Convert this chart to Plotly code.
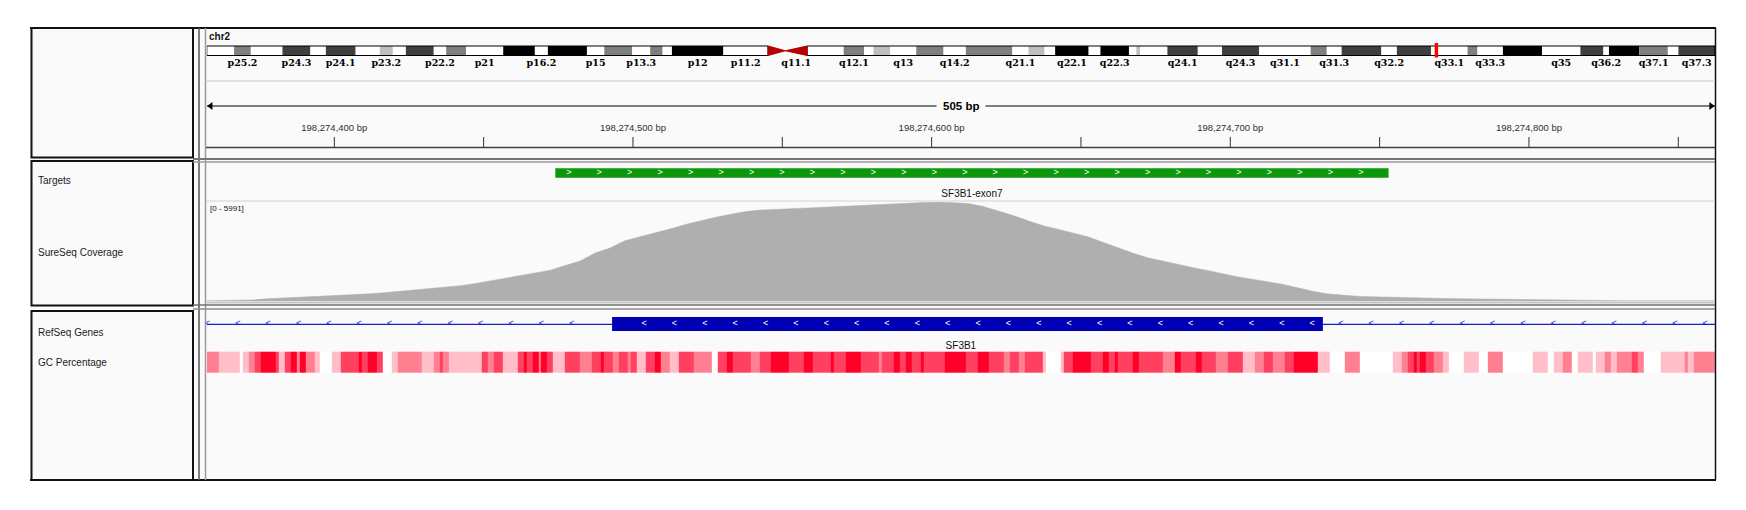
import plotly.graph_objects as go

W, H = 1746, 510

# locus shown in the view
chrom = 'chr2'
chrom_len = 243199373
view_start = 198274357.3
view_end = 198274862.3

# ruler ticks, every 50 bp, labelled every 100 bp
tick_pos = [198274400, 198274450, 198274500, 198274550, 198274600,
            198274650, 198274700, 198274750, 198274800, 198274850]
tick_text = ['198,274,400 bp', '', '198,274,500 bp', '', '198,274,600 bp',
             '', '198,274,700 bp', '', '198,274,800 bp', '']

# chr2 cytobands (hg19)
band_name = ['p25.3', 'p25.2', 'p25.1', 'p24.3', 'p24.2', 'p24.1', 'p23.3', 'p23.2',
             'p23.1', 'p22.3', 'p22.2', 'p22.1', 'p21', 'p16.3', 'p16.2', 'p16.1',
             'p15', 'p14', 'p13.3', 'p13.2', 'p13.1', 'p12', 'p11.2', 'p11.1',
             'q11.1', 'q11.2', 'q12.1', 'q12.2', 'q12.3', 'q13', 'q14.1', 'q14.2',
             'q14.3', 'q21.1', 'q21.2', 'q21.3', 'q22.1', 'q22.2', 'q22.3', 'q23.1',
             'q23.2', 'q23.3', 'q24.1', 'q24.2', 'q24.3', 'q31.1', 'q31.2', 'q31.3',
             'q32.1', 'q32.2', 'q32.3', 'q33.1', 'q33.2', 'q33.3', 'q34', 'q35',
             'q36.1', 'q36.2', 'q36.3', 'q37.1', 'q37.2', 'q37.3']
band_edges = [0, 4400000, 7100000, 12200000, 16700000, 19200000, 24000000, 27900000,
              30000000, 32100000, 36600000, 38600000, 41800000, 47800000, 52900000,
              55000000, 61300000, 64100000, 68600000, 71500000, 73500000, 75000000,
              83300000, 90500000, 93300000, 96800000, 102700000, 106000000, 107500000,
              110200000, 114400000, 118800000, 122400000, 129900000, 132500000,
              135100000, 136800000, 142200000, 144100000, 148700000, 149900000,
              150500000, 154900000, 159800000, 163700000, 169700000, 178000000,
              180600000, 183000000, 189400000, 191900000, 197400000, 203300000,
              204900000, 209000000, 215300000, 221500000, 225200000, 226100000,
              231000000, 235600000, 237300000, 243199373]
band_stain = ['gneg', 'gpos50', 'gneg', 'gpos75', 'gneg', 'gpos75', 'gneg', 'gpos25',
              'gneg', 'gpos75', 'gneg', 'gpos50', 'gneg', 'gpos100', 'gneg', 'gpos100',
              'gneg', 'gpos50', 'gneg', 'gpos50', 'gneg', 'gpos100', 'gneg', 'acen',
              'acen', 'gneg', 'gpos50', 'gneg', 'gpos25', 'gneg', 'gpos50', 'gneg',
              'gpos50', 'gneg', 'gpos25', 'gneg', 'gpos100', 'gneg', 'gpos100', 'gneg',
              'gpos25', 'gneg', 'gpos75', 'gneg', 'gpos75', 'gneg', 'gpos50', 'gneg',
              'gpos75', 'gneg', 'gpos75', 'gneg', 'gpos50', 'gneg', 'gpos100', 'gneg',
              'gpos75', 'gneg', 'gpos100', 'gpos50', 'gneg', 'gpos75']
# the labels IGV had room to draw
band_shown = ['p25.2', 'p24.3', 'p24.1', 'p23.2', 'p22.2', 'p21', 'p16.2', 'p15',
              'p13.3', 'p12', 'p11.2', 'q11.1', 'q12.1', 'q13', 'q14.2', 'q21.1',
              'q22.1', 'q22.3', 'q24.1', 'q24.3', 'q31.1', 'q31.3', 'q32.2', 'q33.1',
              'q33.3', 'q35', 'q36.2', 'q37.1', 'q37.3']

# targets / genes
target_name = 'SF3B1-exon7'
target_start = 198274474
target_end = 198274753
gene_name = 'SF3B1'
exon_start = 198274493
exon_end = 198274731

# coverage, one value every 5 bp from the view start
cov_max = 5991
cov_step = 5
cov_values = [15, 15, 15, 60, 130, 170, 200, 240, 280, 330,
              390, 440, 510, 590, 660, 740, 810, 930, 1060, 1220,
              1380, 1520, 1660, 1860, 2150, 2420, 2900, 3200, 3650, 3880,
              4100, 4350, 4620, 4850, 5050, 5230, 5400, 5500, 5550, 5590,
              5620, 5660, 5700, 5750, 5780, 5830, 5880, 5930, 5960, 5991,
              5950, 5900, 5720, 5450, 5170, 4850, 4560, 4340, 4120, 3890,
              3560, 3230, 2900, 2620, 2420, 2200, 2030, 1850, 1650, 1470,
              1320, 1170, 1020, 810, 600, 440, 360, 290, 260, 230,
              215, 200, 165, 150, 140, 125, 115, 105, 100, 80,
              60, 40, 25, 15, 15, 15, 15, 15, 15, 15,
              15, 15]

# GC percentage: run edges (bp from view start) and shade level 0 (white) .. 4 (red)
gc_edges = [0, 4, 11, 12, 14, 16, 18, 23, 24, 26,
            28, 30, 31, 33, 36, 38, 42, 45, 51, 52,
            54, 57, 59, 62, 64, 72, 76, 78, 79, 81,
            92, 94, 96, 99, 104, 106, 107, 109, 111, 112,
            114, 116, 120, 125, 129, 132, 133, 136, 138, 141,
            142, 144, 147, 150, 152, 155, 158, 163, 169, 171,
            174, 176, 182, 185, 189, 195, 200, 203, 209, 210,
            214, 219, 225, 226, 230, 232, 234, 236, 239, 240,
            247, 254, 258, 262, 267, 269, 272, 274, 280, 281,
            286, 287, 290, 296, 300, 302, 304, 305, 310, 312,
            320, 324, 326, 331, 333, 338, 342, 347, 351, 354,
            357, 361, 364, 372, 376, 381, 386, 397, 400, 402,
            404, 405, 406, 408, 411, 414, 416, 421, 426, 429,
            434, 444, 449, 451, 454, 457, 459, 464, 465, 468,
            470, 472, 477, 479, 481, 487, 495, 496, 498, 505]
gc_level = [2, 1, 0, 1, 2, 3, 4, 3, 1, 3,
            4, 2, 4, 2, 1, 0, 1, 3, 4, 3,
            4, 3, 0, 1, 2, 1, 2, 3, 2, 1,
            3, 2, 3, 1, 3, 4, 3, 4, 2, 4,
            3, 1, 3, 2, 3, 4, 3, 2, 3, 2,
            3, 1, 3, 4, 2, 1, 3, 2, 0, 3,
            4, 3, 2, 3, 4, 3, 4, 3, 4, 3,
            4, 3, 2, 3, 4, 3, 4, 3, 4, 3,
            4, 3, 4, 3, 2, 3, 2, 3, 1, 0,
            1, 3, 4, 3, 4, 3, 4, 3, 4, 3,
            2, 4, 3, 4, 3, 2, 3, 1, 2, 3,
            2, 3, 4, 1, 0, 2, 0, 1, 2, 3,
            4, 3, 4, 3, 2, 1, 0, 1, 0, 2,
            0, 1, 0, 1, 2, 0, 1, 0, 1, 2,
            1, 2, 3, 2, 0, 1, 2, 1, 2]

stain_color = {'gneg': '#ffffff', 'gpos25': '#bfbfbf', 'gpos50': '#7f7f7f',
               'gpos75': '#3f3f3f', 'gpos100': '#000000', 'acen': '#b40000'}
gc_colors = ['#ffffff', '#ffbec8', '#ff8091', '#ff4060', '#ff0028']

SANS = 'Liberation Sans, Arial, sans-serif'
BG = '#fafafa'


def px(x):
    return x / W


def py(y):
    return 1 - y / H


shapes = []
annotations = []


def prect(x0, x1, y0, y1, fill='rgba(0,0,0,0)', line='rgba(0,0,0,0)', lw=0, layer='below'):
    shapes.append(dict(type='rect', xref='paper', yref='paper', x0=px(x0), x1=px(x1),
                       y0=py(y1), y1=py(y0), fillcolor=fill,
                       line=dict(color=line, width=lw), layer=layer))


def pline(x0, y0, x1, y1, color, width):
    shapes.append(dict(type='line', xref='paper', yref='paper', x0=px(x0), x1=px(x1),
                       y0=py(y0), y1=py(y1), line=dict(color=color, width=width),
                       layer='above'))


fig = go.Figure()

# ---- frame / panels ----
prect(30, 1716, 27, 480, fill=BG)
for top, bottom in [(28, 157.5), (161, 305.5), (311, 480)]:
    prect(31.5, 193, top, bottom, line='#111111', lw=2, layer='above')
pline(30, 28, 1716, 28, '#111111', 2)
pline(30, 480, 1716, 480, '#111111', 2)
pline(1715.5, 28, 1715.5, 480, '#111111', 1.5)
pline(199, 28, 199, 480, '#555555', 1.5)
pline(205.5, 28, 205.5, 480, '#9a9a9a', 1.5)
pline(193, 159, 1715, 159, '#767676', 2)
pline(193, 162, 1715, 162, '#9a9a9a', 1.5)
pline(193, 305, 1715, 305, '#707070', 1.5)
pline(193, 309, 1715, 309, '#8a8a8a', 1.5)

# ---- ideogram ----
ideo_top, ideo_bot = 46, 55.5
for i in range(len(band_name)):
    if band_stain[i] == 'acen':
        continue
    shapes.append(dict(type='rect', xref='x2', yref='paper', x0=band_edges[i],
                       x1=band_edges[i + 1], y0=py(ideo_bot), y1=py(ideo_top),
                       fillcolor=stain_color[band_stain[i]], line=dict(width=0),
                       layer='below'))
acen = [i for i in range(len(band_name)) if band_stain[i] == 'acen']
p_end = band_edges[acen[0]]
cen = band_edges[acen[0] + 1]
q_start = band_edges[acen[-1] + 1]
for x0, x1 in [(0, p_end), (q_start, chrom_len)]:
    shapes.append(dict(type='rect', xref='x2', yref='paper', x0=x0, x1=x1,
                       y0=py(ideo_bot), y1=py(ideo_top), fillcolor='rgba(0,0,0,0)',
                       line=dict(color='#000000', width=1), layer='above'))
ymid = py((ideo_top + ideo_bot) / 2)
for xb in [p_end, q_start]:
    shapes.append(dict(type='path', xref='x2', yref='paper',
                       path=f'M {xb},{py(ideo_bot)} L {xb},{py(ideo_top)} L {cen},{ymid} Z',
                       fillcolor=stain_color['acen'], line=dict(color=stain_color['acen'], width=1),
                       layer='above'))
# current locus marker
shapes.append(dict(type='rect', xref='x2', yref='paper', x0=view_start - 280000,
                   x1=view_start + 280000, y0=py(57.5), y1=py(43), fillcolor='#ff0000',
                   line=dict(width=0), layer='above'))

lab_x = [(band_edges[i] + band_edges[i + 1]) / 2 for i in range(len(band_name))
         if band_name[i] in band_shown]
lab_t = [n for n in band_name if n in band_shown]
fig.add_trace(go.Scatter(x=lab_x, y=[63.5] * len(lab_x), text=lab_t, mode='text',
                         textfont=dict(family='DejaVu Serif', size=9.5, color='#000000'),
                         texttemplate='<b>%{text}</b>', xaxis='x2', yaxis='y2',
                         hoverinfo='skip', cliponaxis=False))

# ---- ruler ----
pline(207, 81, 1715, 81, '#d9d9d9', 1.5)
pline(206, 147.5, 1715, 147.5, '#404040', 1.5)
shapes.append(dict(type='line', xref='x', yref='paper', x0=view_start, x1=view_end,
                   y0=py(106), y1=py(106), line=dict(color='#000000', width=1),
                   layer='below'))
fig.add_trace(go.Scatter(x=[view_start + 1.3, view_end - 1.3], y=[106, 106], mode='markers',
                         marker=dict(symbol=['triangle-left', 'triangle-right'], size=7,
                                     color='#000000'),
                         xaxis='x', yaxis='y2', hoverinfo='skip', cliponaxis=False))
annotations.append(dict(x=(view_start + view_end) / 2, xref='x', y=py(106), yref='paper',
                        xanchor='center', yanchor='middle',
                        text=f'<b>{round(view_end - view_start)} bp</b>', showarrow=False,
                        font=dict(family=SANS, size=11.5, color='#000000'),
                        bgcolor=BG, borderpad=6))
tx, ty = [], []
for t in tick_pos:
    tx += [t, t, None]
    ty += [137, 147.5, None]
fig.add_trace(go.Scatter(x=tx, y=ty, mode='lines', line=dict(color='#303030', width=1),
                         xaxis='x', yaxis='y2', hoverinfo='skip'))
lx = [tick_pos[i] for i in range(len(tick_pos)) if tick_text[i]]
lt = [t for t in tick_text if t]
fig.add_trace(go.Scatter(x=lx, y=[129] * len(lx), text=lt, mode='text',
                         textfont=dict(family=SANS, size=9.5, color='#303030'),
                         xaxis='x', yaxis='y2', hoverinfo='skip'))

# ---- targets ----
shapes.append(dict(type='rect', xref='x', yref='paper', x0=target_start, x1=target_end,
                   y0=py(177.7), y1=py(168.3), fillcolor='#0b990b', line=dict(width=0),
                   layer='below'))
t_chev = []
p = target_start + 4.5
while p < target_end - 2:
    t_chev.append(p)
    p += 10.2
fig.add_trace(go.Scatter(x=t_chev, y=[172.5] * len(t_chev), text=['>'] * len(t_chev),
                         mode='text', textfont=dict(family=SANS, size=9, color='#ffffff'),
                         xaxis='x', yaxis='y2', hoverinfo='skip'))
pline(207, 201, 1715, 201, '#d2d2d2', 1)

# ---- coverage ----
cov_x = [view_start + i * cov_step for i in range(len(cov_values))]
fig.add_trace(go.Scatter(x=cov_x, y=cov_values, mode='lines', fill='tozeroy',
                         fillcolor='#afafaf', line=dict(color='#afafaf', width=0.5),
                         xaxis='x', yaxis='y', hoverinfo='skip'))
pline(207, 302.5, 1715, 302.5, '#c4c4c4', 2)

# ---- genes ----
shapes.append(dict(type='line', xref='x', yref='paper', x0=view_start, x1=view_end,
                   y0=py(324.3), y1=py(324.3), line=dict(color='#1c1cc8', width=1.2),
                   layer='below'))
shapes.append(dict(type='rect', xref='x', yref='paper', x0=exon_start, x1=exon_end,
                   y0=py(331), y1=py(317), fillcolor='#0000b4', line=dict(width=0),
                   layer='below'))
step = 10.17
line_chev = []
p = view_start + 0.2
while p < exon_start - 5:
    line_chev.append(p)
    p += step
p = exon_end + 6
while p < view_end - 1:
    line_chev.append(p)
    p += step
exon_chev = []
p = exon_start + 10.7
while p < exon_end - 2:
    exon_chev.append(p)
    p += step
fig.add_trace(go.Scatter(x=line_chev, y=[323.6] * len(line_chev), text=['<'] * len(line_chev),
                         mode='text', textfont=dict(family=SANS, size=9, color='#1c1cc8'),
                         xaxis='x', yaxis='y2', hoverinfo='skip', cliponaxis=False))
fig.add_trace(go.Scatter(x=exon_chev, y=[323.6] * len(exon_chev), text=['<'] * len(exon_chev),
                         mode='text', textfont=dict(family=SANS, size=9, color='#ffffff'),
                         xaxis='x', yaxis='y2', hoverinfo='skip'))

# ---- GC percentage ----
cs = []
for k, c in enumerate(gc_colors):
    cs.append([k / len(gc_colors), c])
    cs.append([(k + 1) / len(gc_colors), c])
fig.add_trace(go.Heatmap(x=[view_start + e for e in gc_edges], y=[351.7, 372.7],
                         z=[gc_level], zmin=-0.5, zmax=4.5, colorscale=cs, showscale=False,
                         xaxis='x', yaxis='y2', hoverinfo='skip'))

# ---- text labels ----
fig.add_trace(go.Scatter(x=[38, 38, 38, 38], y=[181.5, 253, 333, 363],
                         text=['Targets', 'SureSeq Coverage', 'RefSeq Genes', 'GC Percentage'],
                         mode='text', textposition='middle right',
                         textfont=dict(family=SANS, size=10, color='#1a1a1a'),
                         xaxis='x3', yaxis='y2', hoverinfo='skip'))
fig.add_trace(go.Scatter(x=[209, 210], y=[37, 209], text=[f'<b>{chrom}</b>', f'[0 - {cov_max}]'],
                         mode='text', textposition='middle right',
                         textfont=dict(family=SANS, size=[10, 8], color='#111111'),
                         xaxis='x3', yaxis='y2', hoverinfo='skip'))
fig.add_trace(go.Scatter(x=[(target_start + target_end) / 2, (view_start + view_end) / 2],
                         y=[194, 346], text=[target_name, gene_name], mode='text',
                         textfont=dict(family=SANS, size=10, color='#111111'),
                         xaxis='x', yaxis='y2', hoverinfo='skip'))

fig.update_layout(
    width=W, height=H, margin=dict(l=0, r=0, t=0, b=0),
    paper_bgcolor='white', plot_bgcolor='rgba(0,0,0,0)', showlegend=False,
    xaxis=dict(domain=[px(206.8), px(1715)], range=[view_start, view_end], visible=False,
               anchor='y'),
    xaxis2=dict(domain=[px(206.8), px(1715)], range=[0, chrom_len], visible=False,
                anchor='y2'),
    xaxis3=dict(domain=[0, 1], range=[0, W], visible=False, anchor='y2'),
    yaxis=dict(domain=[py(301), py(202)], range=[0, cov_max], visible=False, anchor='x'),
    yaxis2=dict(domain=[0, 1], range=[H, 0], visible=False, anchor='x'),
    shapes=shapes, annotations=annotations)

fig.write_html('out.html', config={'displayModeBar': False},
               post_script="document.body.style.margin='0';")
